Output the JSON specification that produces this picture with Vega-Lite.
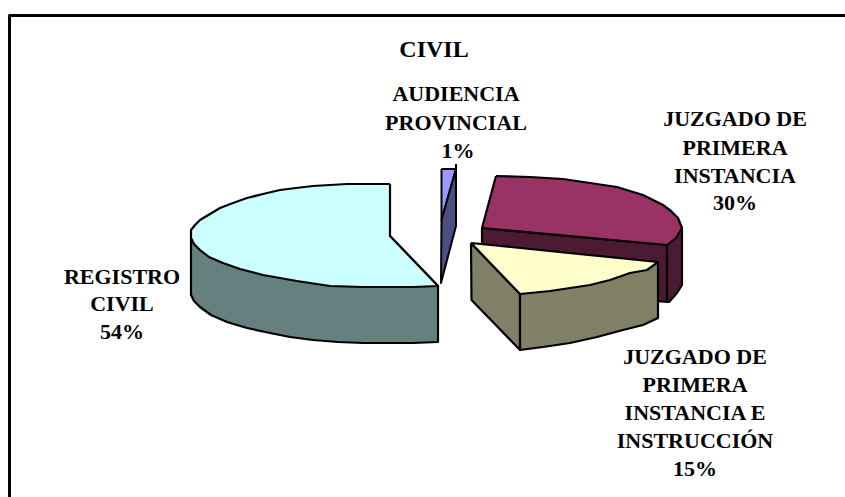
{"$schema":"https://vega.github.io/schema/vega-lite/v6.json","width":845,"height":497,"padding":0,"autosize":{"type":"fit","contains":"padding"},"background":"white","config":{"view":{"stroke":null}},
"datasets":{"shapes":[
{"s":"b1","o":0,"x":9.5,"y":497,"c":"none","w":3},{"s":"b1","o":1,"x":9.5,"y":15.5,"c":"none","w":3},{"s":"b1","o":2,"x":845,"y":15.5,"c":"none","w":3},
{"s":"a1","o":0,"x":390,"y":236,"c":"rs","w":2.2},{"s":"a1","o":1,"x":438,"y":286,"c":"rs","w":2.2},{"s":"a1","o":2,"x":438,"y":342,"c":"rs","w":2.2},{"s":"a1","o":3,"x":413,"y":343,"c":"rs","w":2.2},{"s":"a1","o":4,"x":388,"y":343,"c":"rs","w":2.2},{"s":"a1","o":5,"x":363,"y":343,"c":"rs","w":2.2},{"s":"a1","o":6,"x":338,"y":342,"c":"rs","w":2.2},{"s":"a1","o":7,"x":313,"y":340,"c":"rs","w":2.2},{"s":"a1","o":8,"x":290,"y":337,"c":"rs","w":2.2},{"s":"a1","o":9,"x":270,"y":333,"c":"rs","w":2.2},{"s":"a1","o":10,"x":247,"y":328,"c":"rs","w":2.2},{"s":"a1","o":11,"x":227,"y":322,"c":"rs","w":2.2},{"s":"a1","o":12,"x":211,"y":315,"c":"rs","w":2.2},{"s":"a1","o":13,"x":200,"y":307,"c":"rs","w":2.2},{"s":"a1","o":14,"x":194,"y":301,"c":"rs","w":2.2},{"s":"a1","o":15,"x":191,"y":295,"c":"rs","w":2.2},{"s":"a1","o":16,"x":191,"y":238,"c":"rs","w":2.2},{"s":"a1","o":17,"x":390,"y":236,"c":"rs","w":2.2},
{"s":"a2","o":0,"x":390,"y":184,"c":"rt","w":2.2},{"s":"a2","o":1,"x":390,"y":236,"c":"rt","w":2.2},{"s":"a2","o":2,"x":438,"y":286,"c":"rt","w":2.2},{"s":"a2","o":3,"x":413,"y":287,"c":"rt","w":2.2},{"s":"a2","o":4,"x":388,"y":287,"c":"rt","w":2.2},{"s":"a2","o":5,"x":363,"y":287,"c":"rt","w":2.2},{"s":"a2","o":6,"x":330,"y":286,"c":"rt","w":2.2},{"s":"a2","o":7,"x":297,"y":281,"c":"rt","w":2.2},{"s":"a2","o":8,"x":263,"y":275,"c":"rt","w":2.2},{"s":"a2","o":9,"x":240,"y":269,"c":"rt","w":2.2},{"s":"a2","o":10,"x":223,"y":263,"c":"rt","w":2.2},{"s":"a2","o":11,"x":209,"y":257,"c":"rt","w":2.2},{"s":"a2","o":12,"x":200,"y":250,"c":"rt","w":2.2},{"s":"a2","o":13,"x":194,"y":244,"c":"rt","w":2.2},{"s":"a2","o":14,"x":191,"y":238,"c":"rt","w":2.2},{"s":"a2","o":15,"x":191,"y":230,"c":"rt","w":2.2},{"s":"a2","o":16,"x":195,"y":225,"c":"rt","w":2.2},{"s":"a2","o":17,"x":200,"y":220,"c":"rt","w":2.2},{"s":"a2","o":18,"x":210,"y":214,"c":"rt","w":2.2},{"s":"a2","o":19,"x":220,"y":208,"c":"rt","w":2.2},{"s":"a2","o":20,"x":233,"y":203,"c":"rt","w":2.2},{"s":"a2","o":21,"x":247,"y":198,"c":"rt","w":2.2},{"s":"a2","o":22,"x":263,"y":194,"c":"rt","w":2.2},{"s":"a2","o":23,"x":280,"y":190,"c":"rt","w":2.2},{"s":"a2","o":24,"x":296,"y":188,"c":"rt","w":2.2},{"s":"a2","o":25,"x":313,"y":186,"c":"rt","w":2.2},{"s":"a2","o":26,"x":330,"y":185,"c":"rt","w":2.2},{"s":"a2","o":27,"x":347,"y":184,"c":"rt","w":2.2},{"s":"a2","o":28,"x":390,"y":184,"c":"rt","w":2.2},
{"s":"c1","o":0,"x":441.5,"y":169,"c":"at","w":2},{"s":"c1","o":1,"x":456,"y":169,"c":"at","w":2},{"s":"c1","o":2,"x":441.5,"y":220,"c":"at","w":2},{"s":"c1","o":3,"x":441.5,"y":169,"c":"at","w":2},
{"s":"c2","o":0,"x":456,"y":169,"c":"as","w":2},{"s":"c2","o":1,"x":456,"y":226,"c":"as","w":2},{"s":"c2","o":2,"x":441,"y":283,"c":"as","w":2},{"s":"c2","o":3,"x":441.5,"y":220,"c":"as","w":2},{"s":"c2","o":4,"x":456,"y":169,"c":"as","w":2},
{"s":"c3","o":0,"x":456,"y":164,"c":"none","w":2},{"s":"c3","o":1,"x":456,"y":169,"c":"none","w":2},
{"s":"d1","o":0,"x":482,"y":228,"c":"ps","w":2.2},{"s":"d1","o":1,"x":667,"y":245,"c":"ps","w":2.2},{"s":"d1","o":2,"x":667,"y":302,"c":"ps","w":2.2},{"s":"d1","o":3,"x":482,"y":285,"c":"ps","w":2.2},{"s":"d1","o":4,"x":482,"y":228,"c":"ps","w":2.2},
{"s":"d2","o":0,"x":667,"y":245,"c":"ps","w":2.2},{"s":"d2","o":1,"x":682,"y":228,"c":"ps","w":2.2},{"s":"d2","o":2,"x":682,"y":285,"c":"ps","w":2.2},{"s":"d2","o":3,"x":677,"y":293,"c":"ps","w":2.2},{"s":"d2","o":4,"x":669,"y":302,"c":"ps","w":2.2},{"s":"d2","o":5,"x":667,"y":302,"c":"ps","w":2.2},{"s":"d2","o":6,"x":667,"y":245,"c":"ps","w":2.2},
{"s":"d3","o":0,"x":496,"y":176,"c":"pt","w":2.2},{"s":"d3","o":1,"x":482,"y":228,"c":"pt","w":2.2},{"s":"d3","o":2,"x":667,"y":245,"c":"pt","w":2.2},{"s":"d3","o":3,"x":676,"y":238,"c":"pt","w":2.2},{"s":"d3","o":4,"x":682,"y":228,"c":"pt","w":2.2},{"s":"d3","o":5,"x":678,"y":218,"c":"pt","w":2.2},{"s":"d3","o":6,"x":671,"y":211,"c":"pt","w":2.2},{"s":"d3","o":7,"x":663,"y":205,"c":"pt","w":2.2},{"s":"d3","o":8,"x":643,"y":195,"c":"pt","w":2.2},{"s":"d3","o":9,"x":617,"y":187,"c":"pt","w":2.2},{"s":"d3","o":10,"x":590,"y":183,"c":"pt","w":2.2},{"s":"d3","o":11,"x":563,"y":179,"c":"pt","w":2.2},{"s":"d3","o":12,"x":530,"y":177,"c":"pt","w":2.2},{"s":"d3","o":13,"x":496,"y":176,"c":"pt","w":2.2},
{"s":"e1","o":0,"x":471,"y":243,"c":"ys","w":2.2},{"s":"e1","o":1,"x":520,"y":294,"c":"ys","w":2.2},{"s":"e1","o":2,"x":520,"y":350,"c":"ys","w":2.2},{"s":"e1","o":3,"x":471.5,"y":300,"c":"ys","w":2.2},{"s":"e1","o":4,"x":471,"y":243,"c":"ys","w":2.2},
{"s":"e2","o":0,"x":520,"y":294,"c":"ys","w":2.2},{"s":"e2","o":1,"x":658,"y":262,"c":"ys","w":2.2},{"s":"e2","o":2,"x":658,"y":318,"c":"ys","w":2.2},{"s":"e2","o":3,"x":643,"y":325,"c":"ys","w":2.2},{"s":"e2","o":4,"x":623,"y":330,"c":"ys","w":2.2},{"s":"e2","o":5,"x":597,"y":337,"c":"ys","w":2.2},{"s":"e2","o":6,"x":570,"y":343,"c":"ys","w":2.2},{"s":"e2","o":7,"x":543,"y":347,"c":"ys","w":2.2},{"s":"e2","o":8,"x":520,"y":350,"c":"ys","w":2.2},{"s":"e2","o":9,"x":520,"y":294,"c":"ys","w":2.2},
{"s":"e3","o":0,"x":471,"y":243,"c":"yt","w":2.2},{"s":"e3","o":1,"x":658,"y":262,"c":"yt","w":2.2},{"s":"e3","o":2,"x":647,"y":270,"c":"yt","w":2.2},{"s":"e3","o":3,"x":630,"y":273,"c":"yt","w":2.2},{"s":"e3","o":4,"x":610,"y":280,"c":"yt","w":2.2},{"s":"e3","o":5,"x":590,"y":285,"c":"yt","w":2.2},{"s":"e3","o":6,"x":570,"y":288,"c":"yt","w":2.2},{"s":"e3","o":7,"x":550,"y":291,"c":"yt","w":2.2},{"s":"e3","o":8,"x":530,"y":293,"c":"yt","w":2.2},{"s":"e3","o":9,"x":520,"y":294,"c":"yt","w":2.2},{"s":"e3","o":10,"x":471,"y":243,"c":"yt","w":2.2}
],
"labels":[
{"t":"CIVIL","x":434,"y":50,"z":24},
{"t":"AUDIENCIA","x":456,"y":94,"z":22},{"t":"PROVINCIAL","x":456,"y":123,"z":22},{"t":"1%","x":458,"y":151,"z":22},
{"t":"JUZGADO DE","x":735,"y":119,"z":22},{"t":"PRIMERA","x":735,"y":148,"z":22},{"t":"INSTANCIA","x":735,"y":176,"z":22},{"t":"30%","x":735,"y":203,"z":22},
{"t":"REGISTRO","x":122,"y":277,"z":22},{"t":"CIVIL","x":122,"y":304,"z":22},{"t":"54%","x":122,"y":332,"z":22},
{"t":"JUZGADO DE","x":695,"y":357,"z":22},{"t":"PRIMERA","x":695,"y":385,"z":22},{"t":"INSTANCIA E","x":695,"y":413,"z":22},{"t":"INSTRUCCIÓN","x":695,"y":441,"z":22},{"t":"15%","x":695,"y":469,"z":22}
]},
"layer":[
{"data":{"name":"shapes"},"mark":{"type":"line","filled":true,"stroke":"black","strokeJoin":"round","interpolate":"linear"},
"encoding":{"x":{"field":"x","type":"quantitative","scale":{"domain":[0,845],"range":[0,845]},"axis":null},"y":{"field":"y","type":"quantitative","scale":{"domain":[0,497],"range":[0,497]},"axis":null},
"detail":{"field":"s"},"order":{"field":"o","type":"quantitative"},"strokeWidth":{"field":"w","type":"quantitative","scale":null,"legend":null},
"fill":{"field":"c","type":"nominal","legend":null,"scale":{"domain":["none","rs","rt","at","as","ps","pt","ys","yt"],"range":["transparent","#668080","#CCFFFF","#9999FF","#4D4D80","#4D1A33","#993366","#808066","#FFFFCC"]}}}},
{"data":{"name":"labels"},"mark":{"type":"text","font":"Liberation Serif","fontWeight":"bold","align":"center","baseline":"middle","color":"black"},
"encoding":{"x":{"field":"x","type":"quantitative","scale":{"domain":[0,845],"range":[0,845]},"axis":null},"y":{"field":"y","type":"quantitative","scale":{"domain":[0,497],"range":[0,497]},"axis":null},"text":{"field":"t"},"size":{"field":"z","type":"quantitative","scale":null,"legend":null}}}
]}
